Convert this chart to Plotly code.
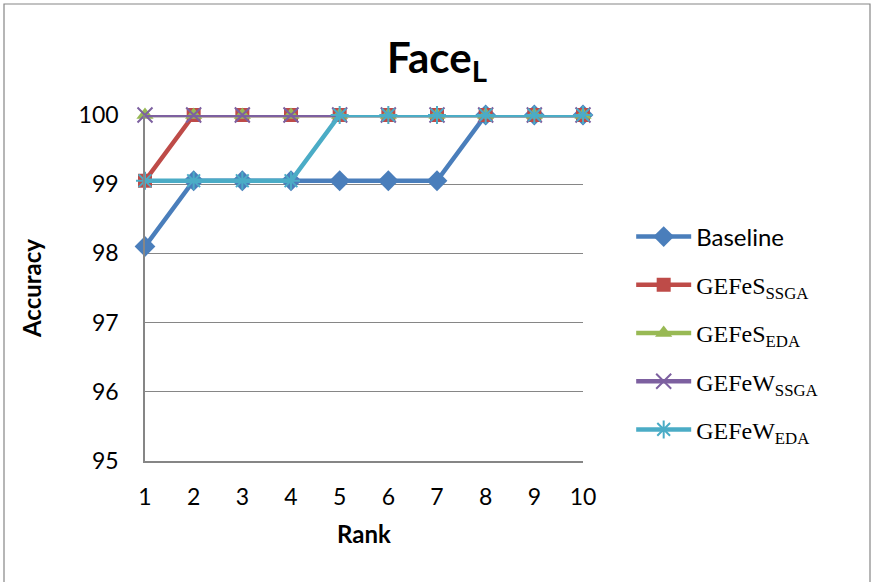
import plotly.graph_objects as go

# Rank-n identification accuracy (%) on the Face_L set
ranks = [1, 2, 3, 4, 5, 6, 7, 8, 9, 10]
baseline = [98.10, 99.05, 99.05, 99.05, 99.05, 99.05, 99.05, 100, 100, 100]
gefes_ssga = [99.05, 100, 100, 100, 100, 100, 100, 100, 100, 100]
gefes_eda = [100, 100, 100, 100, 100, 100, 100, 100, 100, 100]
gefew_ssga = [100, 100, 100, 100, 100, 100, 100, 100, 100, 100]
gefew_eda = [99.05, 99.05, 99.05, 99.05, 100, 100, 100, 100, 100, 100]

y_ticks = [95, 96, 97, 98, 99, 100]

SANS = "Lato, Carlito, Calibri, sans-serif"
SERIF = "Liberation Serif, Times New Roman, serif"

series = [
    ('<span style="font-family:Lato">Baseline</span>', baseline, "#4A7EBB",
     dict(symbol="diamond", size=16)),
    ("GEFeS<sub>SSGA</sub>", gefes_ssga, "#BE4B48",
     dict(symbol="square", size=14)),
    ("GEFeS<sub>EDA</sub>", gefes_eda, "#98B954",
     dict(symbol="triangle-up", size=15)),
    ("GEFeW<sub>SSGA</sub>", gefew_ssga, "#7D60A0",
     dict(symbol="x-thin-open", size=15, line=dict(width=2, color="#7D60A0"))),
    ("GEFeW<sub>EDA</sub>", gefew_eda, "#4BACC6",
     dict(symbol="asterisk-open", size=15, line=dict(width=2, color="#4BACC6"))),
]

fig = go.Figure()
for i, (name, vals, color, mk) in enumerate(series):
    marker = dict(color=color)
    marker.update(mk)
    fig.add_trace(go.Scatter(
        x=ranks, y=vals, name=name, mode="lines+markers",
        line=dict(color=color, width=4.5),
        marker=marker, legendgroup=str(i), cliponaxis=False,
    ))

fig.update_layout(
    width=874, height=582,
    margin=dict(l=145, r=291, t=115, b=121),
    paper_bgcolor="white", plot_bgcolor="white",
    title=dict(text="<b>Face<sub>L</sub></b>", x=0.5, xanchor="center",
               y=0.9, yanchor="middle",
               font=dict(family=SANS, size=42, color="black")),
    xaxis=dict(
        range=[1, 10], tickvals=ranks, ticks="", showgrid=False,
        showline=True, linecolor="#868686", linewidth=1.5,
        tickfont=dict(family=SANS, size=23, color="black"),
        ticklabelstandoff=15,
        title=dict(text="<b>Rank</b>", standoff=17,
                   font=dict(family=SANS, size=24, color="black")),
        zeroline=False,
    ),
    yaxis=dict(
        range=[95, 100], tickvals=y_ticks, ticks="",
        showgrid=True, gridcolor="#868686", gridwidth=1,
        showline=True, linecolor="#868686", linewidth=1.5,
        tickfont=dict(family=SANS, size=23, color="black"),
        ticklabelstandoff=20,
        title=dict(text="<b>Accuracy</b>", standoff=30,
                   font=dict(family=SANS, size=24, color="black")),
        zeroline=False,
    ),
    legend=dict(
        x=1.11, xanchor="left", y=0.370, yanchor="middle",
        font=dict(family=SERIF, size=24, color="black"),
        itemwidth=55, tracegroupgap=14, bgcolor="rgba(0,0,0,0)",
    ),
    showlegend=True,
)

# chart-area frame
fig.add_shape(type="rect", xref="paper", yref="paper",
              x0=(4 - 145) / 438, x1=(870 - 145) / 438,
              y0=(461 - 590) / 346, y1=(461 - 4) / 346,
              line=dict(color="#868686", width=1.2), layer="below")

fig.write_html("out.html")
